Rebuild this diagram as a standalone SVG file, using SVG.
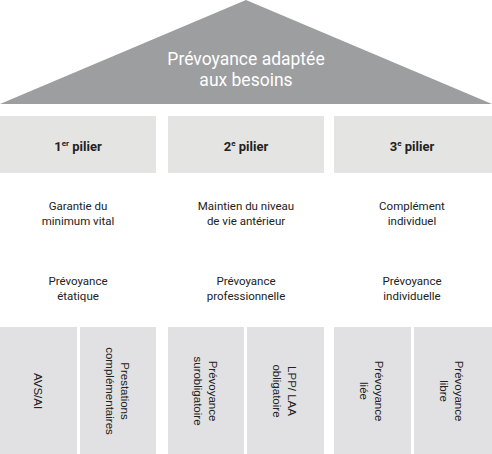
<svg xmlns="http://www.w3.org/2000/svg" width="492" height="454" viewBox="0 0 492 454">
<style>
.roof{fill:#9d9ea0}
.head{fill:#e4e4e2}
.sub{fill:#e1e1e3}
.t{font-family:Roboto,"Liberation Sans",sans-serif;fill:#222;text-anchor:middle}
.title{font-family:Roboto,"Liberation Sans",sans-serif;fill:#fff;font-size:17.5px;text-anchor:middle}
.h{font-size:13px;font-weight:bold}
.m{font-size:11.5px}
.v{font-family:"Liberation Sans",Arial,sans-serif;font-size:11.5px;fill:#222;text-anchor:middle}
</style>
<rect width="492" height="454" fill="#fff"/>
<g id="roof">
<polygon class="roof" points="246,0 492,104 0,104"/>
<text class="title" x="246" y="65">Prévoyance adaptée</text>
<text class="title" x="246" y="86">aux besoins</text>
</g>
<g id="pilier1">
<rect class="head" x="0" y="116" width="156" height="57"/>
<text class="t h" x="78" y="151">1<tspan font-size="8" dy="-5">er</tspan><tspan dy="5"> pilier</tspan></text>
<text class="t m" x="78" y="210">Garantie du</text>
<text class="t m" x="78" y="225">minimum vital</text>
<text class="t m" x="78" y="285">Prévoyance</text>
<text class="t m" x="78" y="300">étatique</text>
</g>
<g id="pilier2">
<rect class="head" x="168" y="116" width="156" height="57"/>
<text class="t h" x="246" y="151">2<tspan font-size="8" dy="-5">e</tspan><tspan dy="5"> pilier</tspan></text>
<text class="t m" x="246" y="210">Maintien du niveau</text>
<text class="t m" x="246" y="225">de vie antérieur</text>
<text class="t m" x="246" y="285">Prévoyance</text>
<text class="t m" x="246" y="300">professionnelle</text>
</g>
<g id="pilier3">
<rect class="head" x="334" y="116" width="158" height="57"/>
<text class="t h" x="412" y="151">3<tspan font-size="8" dy="-5">e</tspan><tspan dy="5"> pilier</tspan></text>
<text class="t m" x="412" y="210">Complément</text>
<text class="t m" x="412" y="225">individuel</text>
<text class="t m" x="412" y="285">Prévoyance</text>
<text class="t m" x="412" y="300">individuelle</text>
</g>
<g id="avs">
<rect class="sub" x="0" y="327" width="77" height="127"/>
<text class="v" transform="translate(38,391) rotate(90)" y="4">AVS/AI</text>
</g>
<g id="prestations">
<rect class="sub" x="80" y="327" width="76" height="127"/>
<text class="v" transform="translate(118,391) rotate(90)"><tspan x="0" y="-3">Prestations</tspan><tspan x="0" y="12">complémentaires</tspan></text>
</g>
<g id="surobligatoire">
<rect class="sub" x="168" y="327" width="76" height="127"/>
<text class="v" transform="translate(206,391) rotate(90)"><tspan x="0" y="-3">Prévoyance</tspan><tspan x="0" y="12">surobligatoire</tspan></text>
</g>
<g id="obligatoire">
<rect class="sub" x="247" y="327" width="77" height="127"/>
<text class="v" transform="translate(285,391) rotate(90)"><tspan x="0" y="-3">LPP/ LAA</tspan><tspan x="0" y="12">obligatoire</tspan></text>
</g>
<g id="liee">
<rect class="sub" x="334" y="327" width="77" height="127"/>
<text class="v" transform="translate(372,391) rotate(90)"><tspan x="0" y="-3">Prévoyance</tspan><tspan x="0" y="12">liée</tspan></text>
</g>
<g id="libre">
<rect class="sub" x="414" y="327" width="78" height="127"/>
<text class="v" transform="translate(452,391) rotate(90)"><tspan x="0" y="-3">Prévoyance</tspan><tspan x="0" y="12">libre</tspan></text>
</g>
<g id="connectors"></g>
</svg>
